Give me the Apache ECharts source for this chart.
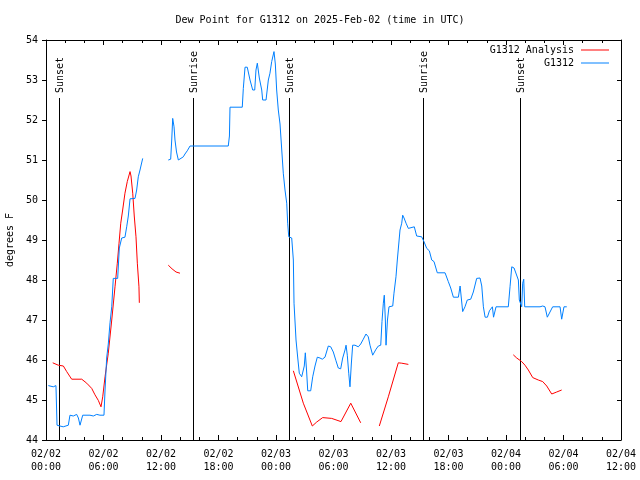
<!DOCTYPE html>
<html>
<head>
<meta charset="utf-8">
<script src="https://cdn.jsdelivr.net/npm/echarts@6/dist/echarts.min.js"></script>
<style>html,body{margin:0;padding:0;background:#fff}#c{width:640px;height:480px}</style>
</head>
<body>
<div id="c"></div>
<script>
// hours since 2025-02-02 00:00 UTC
var xTickLabels = ['02/02\n00:00','02/02\n06:00','02/02\n12:00','02/02\n18:00','02/03\n00:00','02/03\n06:00','02/03\n12:00','02/03\n18:00','02/04\n00:00','02/04\n06:00','02/04\n12:00'];

var eventHours  = [1.39, 15.34, 25.39, 39.37, 49.5];
var eventLabels = ['Sunset', 'Sunrise', 'Sunset', 'Sunrise', 'Sunset'];

var obsHours = [0.24,0.76,1.04,1.15,1.46,1.8,2.0,2.33,2.5,2.85,3.2,3.38,3.55,3.83,4.59,4.94,5.29,5.63,5.81,6.05,6.16,6.33,6.5,6.68,6.86,7.02,7.48,7.65,7.9,8.24,8.42,8.59,8.77,9.29,9.46,9.63,9.81,10.09,
  11.0,
  12.76,13.01,13.12,13.22,13.36,13.46,13.62,13.81,13.98,14.33,14.5,14.74,15.03,19.02,19.14,19.2,20.48,20.59,20.77,21.0,21.29,21.57,21.78,21.91,22.05,22.26,22.51,22.61,22.96,23.2,23.37,23.55,23.79,23.93,24.07,24.24,24.42,24.6,24.76,24.94,25.12,25.22,25.33,25.64,25.81,25.88,26.09,26.27,26.43,26.68,26.87,26.95,27.06,27.2,27.31,27.62,27.83,28.07,28.31,28.59,28.83,29.11,29.46,29.71,29.98,30.26,30.5,30.75,30.96,31.2,31.31,31.44,31.59,31.72,31.86,32.0,32.24,32.59,32.84,33.11,33.39,33.63,33.81,34.09,34.23,34.44,34.68,34.93,35.06,35.2,35.3,35.41,35.48,35.63,35.79,36.18,36.31,36.52,36.66,36.81,36.94,37.12,37.22,37.36,37.57,37.81,37.98,38.43,38.68,39.2,39.44,39.73,40.0,40.25,40.49,40.83,41.64,41.98,42.23,42.51,43.03,43.21,43.31,43.48,43.72,43.96,44.32,44.59,44.94,45.29,45.47,45.64,45.82,46.06,46.27,46.58,46.7,46.82,46.96,48.24,48.42,48.6,48.84,49.04,49.29,49.39,49.64,49.74,49.85,49.95,51.55,51.83,52.07,52.31,52.59,52.87,53.64,53.81,54.05,54.34];
var obsValues = [45.36,45.33,45.36,44.37,44.35,44.33,44.35,44.37,44.62,44.6,44.64,44.55,44.37,44.62,44.62,44.6,44.64,44.62,44.58,44.62,45.25,46.05,46.4,46.93,47.33,48.04,48.04,48.8,49.05,49.07,49.33,49.6,50.03,50.04,50.25,50.58,50.75,51.04,
  null,
  51.0,51.02,51.5,52.04,51.83,51.5,51.2,51.0,51.05,51.08,51.15,51.23,51.35,51.35,51.6,52.32,52.32,52.79,53.32,53.32,53.0,52.75,52.75,53.25,53.42,53.05,52.75,52.5,52.5,53.0,53.17,53.46,53.71,53.4,52.75,52.25,51.9,51.25,50.67,50.25,49.92,49.42,49.08,49.05,48.5,47.42,46.5,46.05,45.67,45.58,45.58,45.85,46.18,45.7,45.23,45.23,45.58,45.85,46.07,46.05,46.02,46.07,46.35,46.33,46.2,45.98,45.8,45.78,46.05,46.25,46.37,46.12,45.67,45.33,45.9,46.37,46.37,46.33,46.4,46.52,46.65,46.58,46.37,46.12,46.08,46.27,46.35,46.37,46.96,47.42,47.62,47.0,46.37,47.0,47.33,47.35,47.67,48.08,48.5,48.9,49.25,49.42,49.62,49.55,49.42,49.29,49.33,49.33,49.1,49.08,48.96,48.79,48.73,48.5,48.46,48.18,48.18,47.96,47.8,47.57,47.57,47.85,47.8,47.21,47.33,47.5,47.52,47.7,48.04,48.05,47.85,47.33,47.07,47.07,47.23,47.33,47.07,47.07,47.33,47.33,47.83,48.33,48.3,48.33,48.0,47.5,47.33,47.92,48.02,47.33,47.33,47.35,47.33,47.07,47.2,47.33,47.33,47.02,47.33,47.33];

var anaHours = [0.7,1.28,1.81,2.16,2.68,3.73,4.25,4.77,5.11,5.46,5.74,5.92,6.16,6.5,6.86,7.2,7.44,7.62,7.8,8.0,8.24,8.48,8.77,8.87,9.05,9.21,9.39,9.53,9.7,9.74,
  11.0,
  12.76,13.15,13.57,13.98,
  20.0,
  25.81,26.85,27.79,28.25,28.87,29.81,30.78,31.8,32.84,
  33.8,
  34.78,35.72,36.76,37.12,37.81,
  43.0,
  48.76,49.12,49.64,49.98,50.33,50.79,51.37,51.83,52.25,52.77,53.29,53.81];
var anaValues = [45.93,45.87,45.85,45.71,45.52,45.52,45.42,45.29,45.13,44.99,44.83,45.08,45.58,46.17,47.0,47.83,48.42,48.92,49.42,49.75,50.17,50.46,50.71,50.6,50.17,49.6,49.08,48.42,47.83,47.43,
  null,
  48.37,48.28,48.2,48.17,
  null,
  45.73,44.92,44.35,44.45,44.56,44.54,44.46,44.92,44.43,
  null,
  44.35,45.08,45.93,45.92,45.89,
  null,
  46.13,46.05,45.96,45.87,45.75,45.56,45.5,45.46,45.35,45.15,45.2,45.25];

function pairs(xs, ys) { return xs.map(function (x, i) { return [x, ys[i] === null ? '-' : ys[i]]; }); }

var FONT = 'DejaVu Sans Mono';
var chart = echarts.init(document.getElementById('c'), null, { renderer: 'canvas' });

var xCommon = {
  type: 'value', min: 0, max: 60, interval: 6,
  splitLine: { show: false },
  axisLine: { show: true, onZero: false, lineStyle: { color: '#000', width: 1 } },
  axisTick: { show: true, inside: true, length: 5, lineStyle: { color: '#000' } },
  minorTick: { show: true, splitNumber: 3, length: 3, lineStyle: { color: '#000' } }
};
var yCommon = {
  type: 'value', min: 44, max: 54, interval: 1,
  splitLine: { show: false },
  axisLine: { show: true, onZero: false, lineStyle: { color: '#000', width: 1 } }
};
var legendCommon = {
  right: 31, align: 'right', orient: 'horizontal', padding: 0,
  icon: 'rect', itemWidth: 28, itemHeight: 1,
  textStyle: { fontFamily: FONT, fontSize: 10, color: '#000', padding: [0, 2, 0, 0] }
};

chart.setOption({
  animation: false,
  backgroundColor: '#fff',
  textStyle: { fontFamily: FONT, color: '#000' },
  title: {
    text: 'Dew Point for G1312 on 2025-Feb-02 (time in UTC)',
    left: 'center', top: 10,
    textStyle: { fontFamily: FONT, fontSize: 10, fontWeight: 'normal', color: '#000' }
  },
  legend: [
    Object.assign({}, legendCommon, { data: ['G1312 Analysis'], top: 45 }),
    Object.assign({}, legendCommon, { data: ['G1312'], top: 58 })
  ],
  grid: { left: 46, right: 19, top: 40, bottom: 40, outerBoundsMode: 'none', containLabel: false },
  xAxis: [
    Object.assign({}, xCommon, {
      position: 'bottom',
      axisLabel: { show: true, margin: 8, fontFamily: FONT, fontSize: 10, color: '#000', lineHeight: 13,
        formatter: function (v) { return xTickLabels[Math.round(v / 6)] || ''; } }
    }),
    Object.assign({}, xCommon, { position: 'top', axisLabel: { show: false } })
  ],
  yAxis: [
    Object.assign({}, yCommon, {
      position: 'left',
      name: 'degrees F', nameLocation: 'middle', nameGap: 29, nameRotate: 90,
      nameTextStyle: { fontFamily: FONT, fontSize: 10, color: '#000' },
      axisTick: { show: true, inside: false, length: 4, lineStyle: { color: '#000' } },
      axisLabel: { margin: 8, fontFamily: FONT, fontSize: 10, color: '#000' }
    }),
    Object.assign({}, yCommon, {
      position: 'right',
      axisTick: { show: true, inside: true, length: 4, lineStyle: { color: '#000' } },
      axisLabel: { show: false }
    })
  ],
  series: [
    {
      type: 'custom', name: 'events', xAxisIndex: 0, yAxisIndex: 0, silent: true,
      data: eventHours.map(function (h) { return [h, 44]; }),
      renderItem: function (params, api) {
        var t = api.value(0);
        var pb = api.coord([t, 44]);
        var pt = api.coord([t, 54]);
        var x = Math.round(pb[0]) + 0.5;
        var yTop = pt[1] + 58;
        return {
          type: 'group',
          children: [
            { type: 'line', shape: { x1: x, y1: pb[1], x2: x, y2: yTop },
              style: { stroke: '#000', lineWidth: 1 } },
            { type: 'text', x: x + 1, y: yTop - 5, rotation: Math.PI / 2,
              style: { text: eventLabels[params.dataIndex], align: 'left', verticalAlign: 'middle',
                font: '10px "DejaVu Sans Mono"', fill: '#000' } }
          ]
        };
      },
      z: 1
    },
    {
      name: 'G1312 Analysis', type: 'line', symbol: 'none', showSymbol: false, connectNulls: false,
      lineStyle: { color: '#ff0000', width: 1 }, itemStyle: { color: '#ff0000' },
      data: pairs(anaHours, anaValues), z: 2
    },
    {
      name: 'G1312', type: 'line', symbol: 'none', showSymbol: false, connectNulls: false,
      lineStyle: { color: '#0080ff', width: 1 }, itemStyle: { color: '#0080ff' },
      data: pairs(obsHours, obsValues), z: 3
    }
  ]
});
</script>
</body>
</html>
